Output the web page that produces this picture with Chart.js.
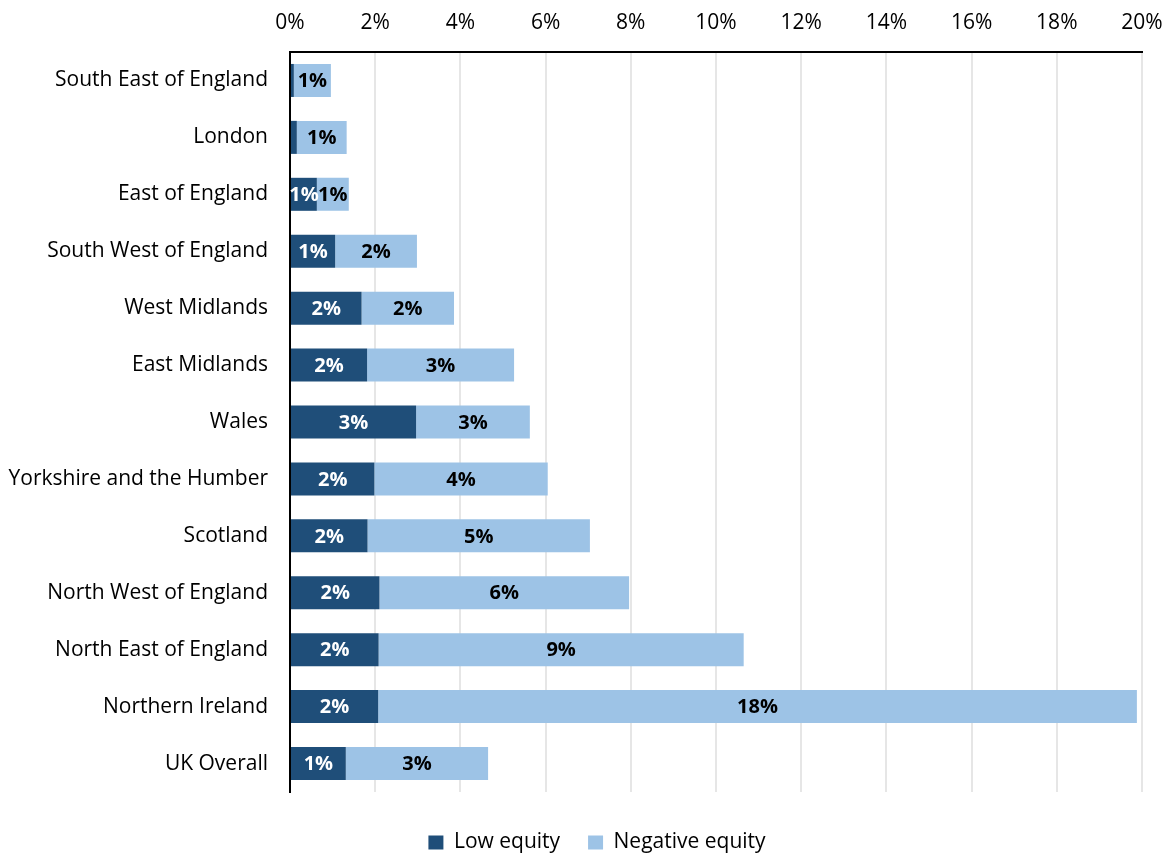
<!DOCTYPE html>
<html>
<head>
<meta charset="utf-8">
<script src="https://cdn.jsdelivr.net/npm/chart.js@4.4.1/dist/chart.umd.min.js"></script>
<style>
  html, body { margin: 0; padding: 0; background: #ffffff; }
  #wrap { width: 1170px; height: 854px; }
</style>
</head>
<body>
<div id="wrap"><canvas id="chart" width="1170" height="854"></canvas></div>
<script>
// Regions, top to bottom
const regions = [
  'South East of England', 'London', 'East of England', 'South West of England',
  'West Midlands', 'East Midlands', 'Wales', 'Yorkshire and the Humber',
  'Scotland', 'North West of England', 'North East of England',
  'Northern Ireland', 'UK Overall'
];
// Share of mortgages (%) in each equity band
const lowEquity = [0.09, 0.16, 0.63, 1.06, 1.68, 1.81, 2.96, 1.98, 1.82, 2.10, 2.08, 2.07, 1.31];
const negativeEquity = [0.87, 1.17, 0.75, 1.92, 2.17, 3.45, 2.67, 4.07, 5.22, 5.86, 8.57, 17.81, 3.34];
// Percentage axis ticks
const xTicks = [0, 2, 4, 6, 8, 10, 12, 14, 16, 18, 20];

const FONT = '"Open Sans", Lato, sans-serif';
const DARK = '#1F4E79';
const LIGHT = '#9DC3E6';

// Centred value labels inside each segment
const segmentLabels = {
  id: 'segmentLabels',
  afterDatasetsDraw(chart) {
    const ctx = chart.ctx;
    ctx.save();
    ctx.font = 'bold 20px ' + FONT;
    ctx.textAlign = 'center';
    ctx.textBaseline = 'middle';
    chart.data.datasets.forEach((ds, i) => {
      const meta = chart.getDatasetMeta(i);
      meta.data.forEach((bar, j) => {
        const v = ds.data[j];
        const r = Math.round(v);
        if (r < 1) return;
        ctx.fillStyle = ds.labelColor;
        ctx.fillText(r + '%', (bar.x + bar.base) / 2, bar.y + 1);
      });
    });
    ctx.restore();
  }
};

// Nudge the legend row slightly to the right
const legendShift = {
  id: 'legendShift',
  afterLayout(chart) {
    const lg = chart.legend;
    if (!lg) return;
    lg.left += 26;
    lg.right += 26;
  }
};

new Chart(document.getElementById('chart'), {
  type: 'bar',
  data: {
    labels: regions,
    datasets: [
      { label: 'Low equity', data: lowEquity, backgroundColor: DARK, labelColor: '#ffffff',
        categoryPercentage: 1, barPercentage: 0.58 },
      { label: 'Negative equity', data: negativeEquity, backgroundColor: LIGHT, labelColor: '#000000',
        categoryPercentage: 1, barPercentage: 0.58 }
    ]
  },
  plugins: [segmentLabels, legendShift],
  options: {
    indexAxis: 'y',
    responsive: false,
    animation: false,
    layout: { padding: { left: 0, right: 28, top: 0, bottom: -9 } },
    scales: {
      x: {
        position: 'top',
        stacked: true,
        min: 0,
        max: 20,
        afterBuildTicks(scale) { scale.ticks = xTicks.map(v => ({ value: v })); },
        afterFit(scale) {
          scale.height = 52;
          scale.paddingLeft = 0;
          scale.paddingRight = 0;
        },
        ticks: {
          padding: 16,
          color: '#000000',
          font: { family: FONT, size: 21 },
          callback: v => v + '%',
          maxRotation: 0
        },
        grid: { color: '#E6E6E6', lineWidth: 2, drawTicks: false },
        border: { display: true, color: '#000000', width: 2 }
      },
      y: {
        stacked: true,
        afterFit(scale) { scale.width = 290; },
        ticks: {
          padding: 22,
          color: '#000000',
          font: { family: FONT, size: 21 }
        },
        grid: { display: false, drawTicks: false },
        border: { display: true, color: '#000000', width: 2 }
      }
    },
    plugins: {
      legend: {
        position: 'bottom',
        title: { display: true, text: '', padding: 0, font: { size: 10 } },
        labels: {
          color: '#000000',
          font: { family: FONT, size: 21 },
          boxWidth: 15,
          boxHeight: 14,
          padding: 28
        }
      },
      tooltip: { enabled: false }
    }
  }
});
</script>
</body>
</html>
